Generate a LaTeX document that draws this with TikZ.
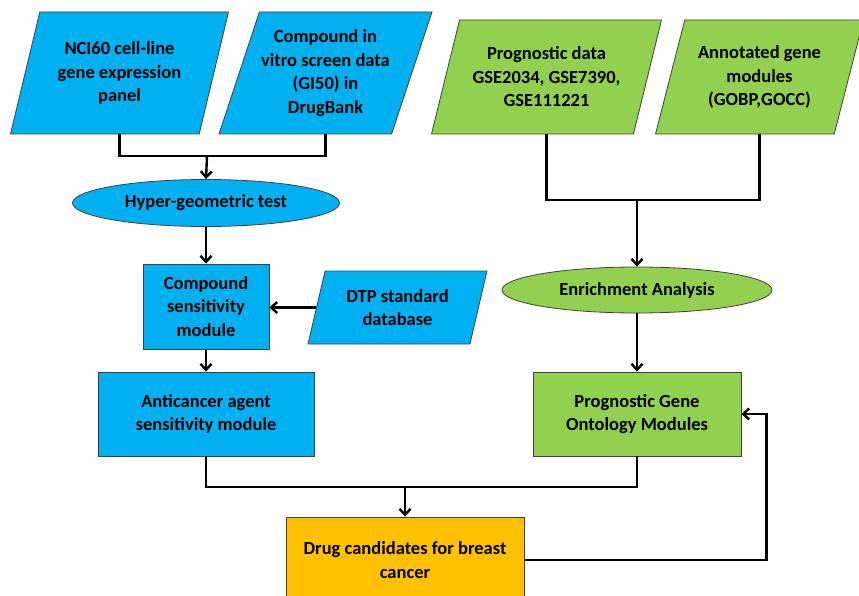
\documentclass[tikz,border=0pt]{standalone}
\usepackage{fontspec}
\setmainfont{Carlito}
\usetikzlibrary{shapes.geometric,arrows.meta}
\definecolor{boxblue}{HTML}{00B0F0}
\definecolor{boxgreen}{HTML}{92D050}
\definecolor{boxorange}{HTML}{FFC000}
\tikzset{
  base/.style={draw=black!75, line width=0.8pt, align=center, inner sep=0pt,
    font=\fontsize{18.5}{23.5}\selectfont\bfseries},
  datain/.style={base, trapezium, trapezium left angle=65, trapezium right angle=115,
    trapezium stretches body},
  process/.style={base, rectangle},
  test/.style={base, ellipse},
  link/.style={line width=2.4pt},
  arr/.style={link, -{Straight Barb[length=6pt,width=11pt]}}
}
\begin{document}
\begin{tikzpicture}[x=1pt,y=-1pt]
\useasboundingbox (0,0) rectangle (859,596);
\clip (0,0) rectangle (859,596);
% inputs
\node[datain, fill=boxblue, minimum width=218, minimum height=122] (nci) at (119.5,73)
  {NCI60 cell-line\\gene expression\\panel};
\node[datain, fill=boxblue, minimum width=213, minimum height=122] (invitro) at (325.5,73)
  {Compound in\\vitro screen data\\(GI50) in\\DrugBank};
\node[datain, fill=boxgreen, minimum width=230, minimum height=114] (prog) at (546.5,77)
  {Prognostic data\\GSE2034, GSE7390,\\GSE111221};
\node[datain, fill=boxgreen, minimum width=208, minimum height=114] (annot) at (759.5,77)
  {Annotated gene\\modules\\(GOBP,GOCC)};
% analyses
\node[test, fill=boxblue, minimum width=267, minimum height=47] (hyper) at (206,203)
  {Hyper-geometric test};
\node[test, fill=boxgreen, minimum width=270, minimum height=46] (enrich) at (637,290)
  {Enrichment Analysis};
% modules
\node[process, fill=boxblue, minimum width=126, minimum height=85] (csm) at (206,306.5)
  {Compound\\sensitivity\\module};
\node[datain, fill=boxblue, minimum width=179, minimum height=73] (dtp) at (397.5,307.5)
  {DTP standard\\database};
\node[process, fill=boxblue, minimum width=216, minimum height=84] (acm) at (206,414)
  {Anticancer agent\\sensitivity module};
\node[process, fill=boxgreen, minimum width=208, minimum height=84] (pgom) at (637,414)
  {Prognostic Gene\\Ontology Modules};
\node[process, fill=boxorange, minimum width=238, minimum height=86] (drug) at (405,560)
  {Drug candidates for breast\\cancer};
% joins
\coordinate (jA) at (207,156);
\coordinate (jB) at (637,200);
\coordinate (jC) at (405,487);
% connectors
\draw[link] (nci.south) |- (jA) -| (invitro.south);
\draw[arr] (jA) -- (hyper.north);
\draw[link] (prog.south) |- (jB) -| (annot.south);
\draw[arr] (jB) -- (enrich.north);
\draw[arr] (hyper.south) -- (csm.north);
\draw[arr] (dtp.west) -- (dtp.west -| csm.east);
\draw[arr] (csm.south) -- (acm.north);
\draw[arr] (enrich.south) -- (pgom.north);
\draw[link] (acm.south) |- (jC) -| (pgom.south);
\draw[arr] (jC) -- (drug.north);
\draw[arr] (drug.east) -| ([xshift=25pt]pgom.east) -- (pgom.east);
\end{tikzpicture}
\end{document}
